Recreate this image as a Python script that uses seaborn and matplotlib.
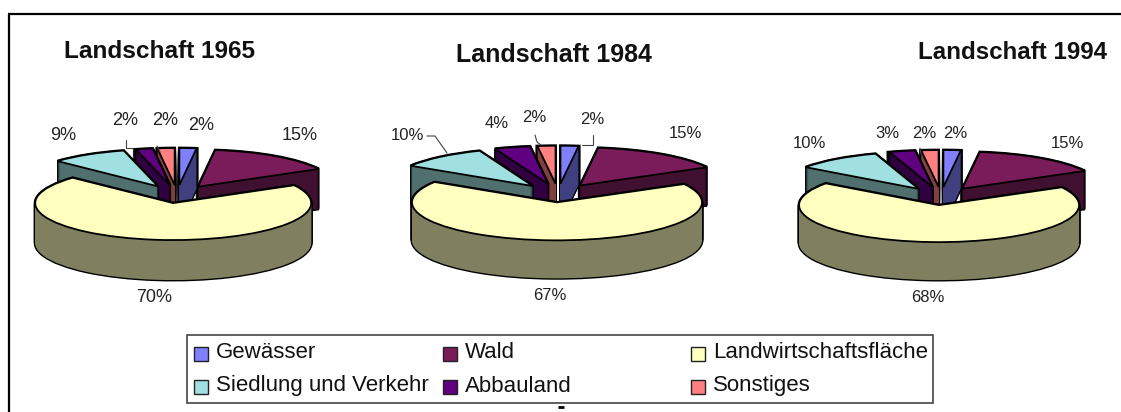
# Landschaft 1965 / 1984 / 1994: exploded 3D-style pies

import matplotlib
matplotlib.use('Agg')
import matplotlib.pyplot as plt
from matplotlib.patches import Rectangle
import seaborn as sns

categories = ['Gewässer', 'Wald', 'Landwirtschaftsfläche', 'Siedlung und Verkehr', 'Abbauland', 'Sonstiges']
titles = ['Landschaft 1965', 'Landschaft 1984', 'Landschaft 1994']
values_1965 = [2, 15, 70, 9, 2, 2]
values_1984 = [2, 15, 67, 10, 4, 2]
values_1994 = [2, 15, 68, 10, 3, 2]

top_colors = ['#8080FF', '#7B1C5A', '#FFFFC0', '#A0E0E0', '#600080', '#FF8080']
side_colors = ['#404080', '#401030', '#808060', '#507070', '#300040', '#804040']

sns.set_theme(style='white')
plt.rcParams['font.family'] = ['Liberation Sans', 'DejaVu Sans']

W, H = 1121, 412
fig = plt.figure(figsize=(W / 100, H / 100), dpi=100, facecolor='white')

# overlay in pixel units, for frame, titles, labels, legend
ov = fig.add_axes([0, 0, 1, 1], zorder=5)
ov.set_xlim(0, W)
ov.set_ylim(H, 0)
ov.axis('off')

# draw back wedges first, the big front one last
draw_rank = [1, 0, 5, 4, 3, 2]
explode = [0.27, 0.27, 0.22, 0.27, 0.27, 0.27]


def draw_pie(values, cx, cy, rx, ry, depth):
    # axes covers 1.6 radii each way, so one data unit is rx by ry pixels
    left, right = cx - 1.6 * rx, cx + 1.6 * rx
    top, bottom = cy - 1.6 * ry, cy + 1.6 * ry + depth
    ax = fig.add_axes([left / W, 1 - bottom / H, (right - left) / W, (bottom - top) / H])
    pie_args = dict(explode=explode, startangle=90, counterclock=False, radius=1)

    for k in range(depth, -1, -1):
        # black outline layer behind the side faces
        wedges, _ = ax.pie(values, center=(0, -k / ry), colors=['black'] * 6,
                           wedgeprops=dict(linewidth=2.0, edgecolor='black'), **pie_args)
        for w, r in zip(wedges, draw_rank):
            w.set_zorder(r * 10)
        wedges, _ = ax.pie(values, center=(0, -k / ry), colors=side_colors,
                           wedgeprops=dict(linewidth=0), **pie_args)
        for w, r in zip(wedges, draw_rank):
            w.set_zorder(r * 10 + 1)

    wedges, _ = ax.pie(values, center=(0, 0), colors=top_colors,
                       wedgeprops=dict(linewidth=1.3, edgecolor='black'), **pie_args)
    for w, r in zip(wedges, draw_rank):
        w.set_zorder(r * 10 + 2)

    ax.set_aspect('auto')
    ax.set_xlim(-1.6, 1.6)
    ax.set_ylim(-1.6 - depth / ry, 1.6)
    ax.patch.set_alpha(0)
    return ax


draw_pie(values_1965, 177, 195, 138, 37, 40)
draw_pie(values_1984, 558, 194, 145, 38, 38)
draw_pie(values_1994, 941, 197, 140, 37, 38)

# frame
ov.plot([8, 1121], [14, 14], color='black', lw=1.6, solid_capstyle='butt')
ov.plot([9, 9], [14, 412], color='black', lw=1.6, solid_capstyle='butt')

# titles
ov.text(159, 51, titles[0], ha='center', va='center', fontsize=17.6, fontweight='bold', color='#111111')
ov.text(554, 55, titles[1], ha='center', va='center', fontsize=18, fontweight='bold', color='#111111')
ov.text(1012, 52, titles[2], ha='center', va='center', fontsize=17.4, fontweight='bold', color='#111111')

# percent labels, pixel position of each label centre
label_pos_1965 = [(201, 125), (300, 136), (154, 298), (63, 135), (125, 120), (165, 120)]
label_pos_1984 = [(592, 119), (685, 133), (550, 296), (407, 135), (497, 123), (534, 117)]
label_pos_1994 = [(955, 133), (1067, 143), (928, 297), (809, 143), (887, 134), (924, 133)]
label_size = [13, 12, 12]
for vals, pos, fs in zip([values_1965, values_1984, values_1994],
                         [label_pos_1965, label_pos_1984, label_pos_1994], label_size):
    for v, (x, y) in zip(vals, pos):
        ov.text(x, y, f'{v}%', ha='center', va='center', fontsize=fs, color='#222222')

# leader lines
for xs, ys in [([126, 126, 133], [140, 148, 148]),
               ([157, 160], [146, 152]),
               ([427, 435, 447], [136, 136, 153]),
               ([535, 537, 541], [135, 142, 145]),
               ([593, 593, 582], [135, 145, 145]),
               ([920, 921], [148, 154])]:
    ov.plot(xs, ys, color='#444444', lw=0.8)

# legend box
ov.add_patch(Rectangle((187, 335), 746, 68, facecolor='white', edgecolor='#444444', lw=1.2))
swatch_x = [194, 443, 691, 194, 443, 691]
swatch_y = [354, 354, 354, 387, 387, 387]
for name, color, x, y in zip(categories, top_colors, swatch_x, swatch_y):
    ov.add_patch(Rectangle((x, y - 7), 14, 14, facecolor=color, edgecolor='#222222', lw=1))
    ov.text(x + 22, y - 1, name, ha='left', va='center', fontsize=16, color='#111111')

# small tick below the legend
ov.plot([558, 564], [406.5, 406.5], color='black', lw=2, solid_capstyle='butt')

fig.savefig('out.png', dpi=100)
